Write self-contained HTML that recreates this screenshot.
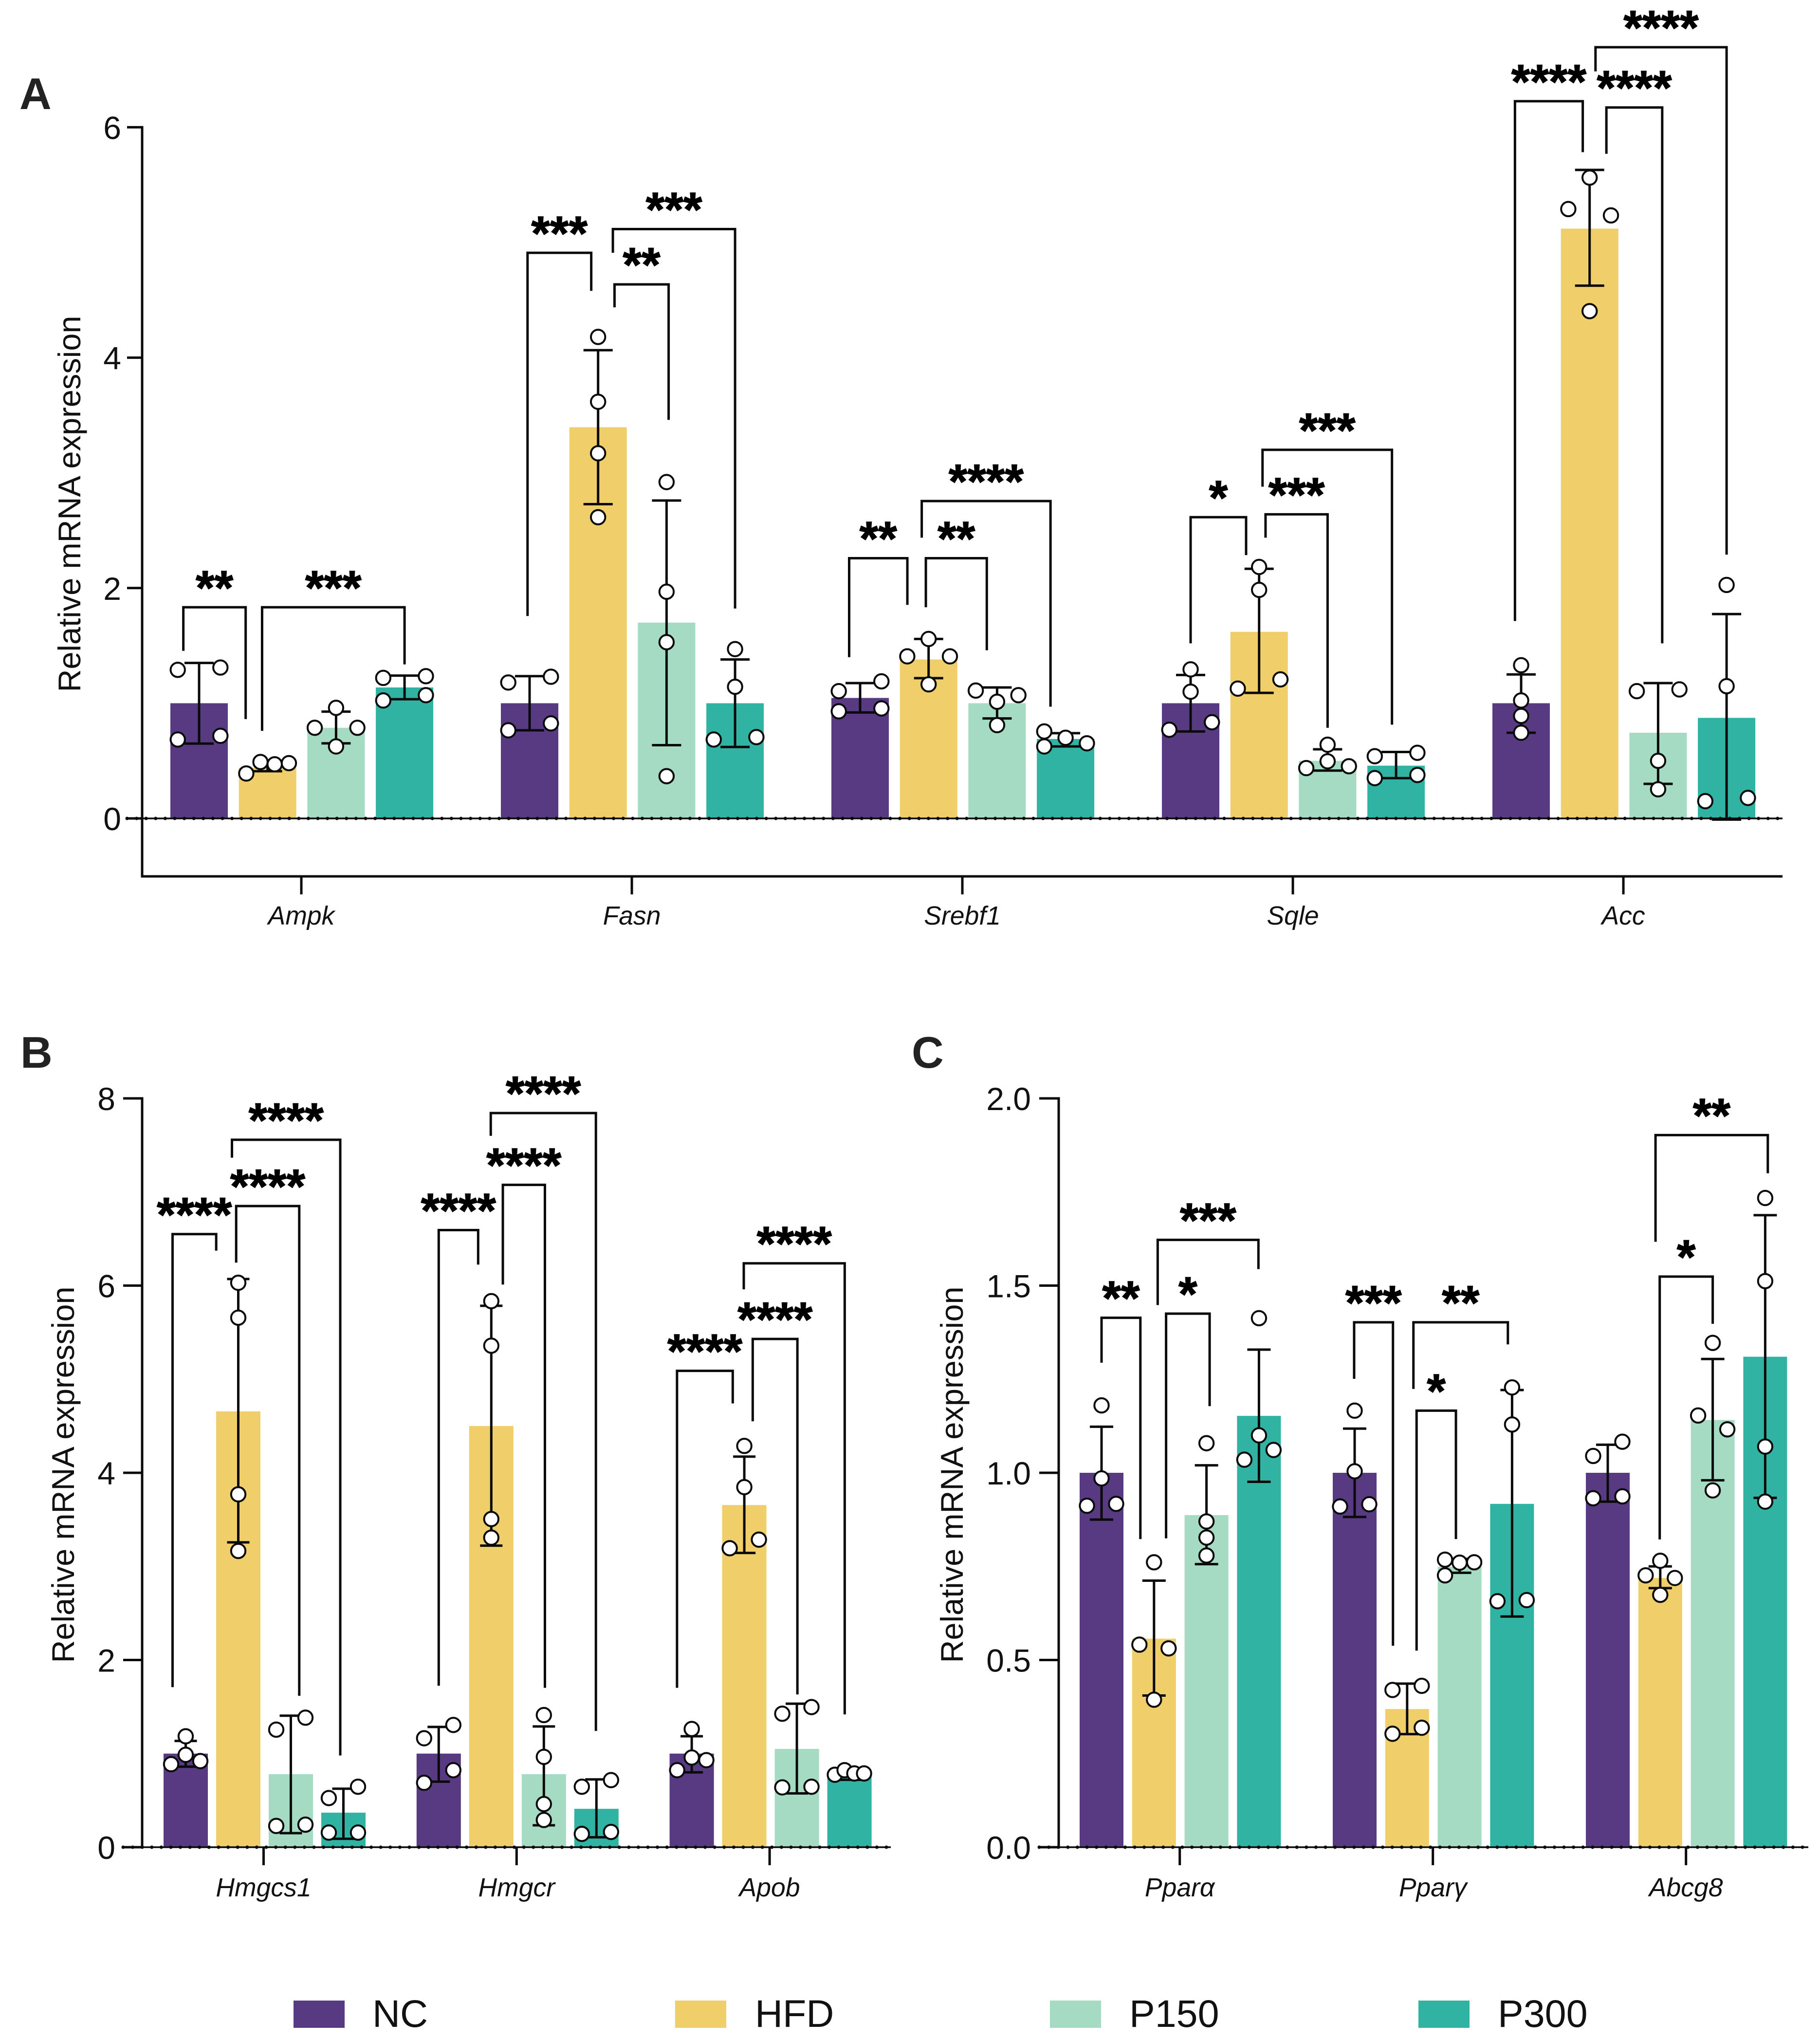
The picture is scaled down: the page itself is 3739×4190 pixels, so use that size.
<!DOCTYPE html>
<html lang="en">
<head>
<meta charset="utf-8">
<title>Relative mRNA expression</title>
<style>
html,body{margin:0;padding:0;background:#fff}
svg{display:block;font-family:"Liberation Sans",Arial,sans-serif}
</style>
</head>
<body>
<svg id="figure" xmlns="http://www.w3.org/2000/svg" width="3739" height="4190" viewBox="0 0 3739 4190">
  <rect x="0" y="0" width="3739" height="4190" fill="#fff"/>
  <text x="40" y="224" font-size="91" font-weight="700" fill="#222">A</text>
  <text x="42" y="2193" font-size="91" font-weight="700" fill="#222">B</text>
  <text x="1873" y="2193" font-size="91" font-weight="700" fill="#222">C</text>
  <g>
    <g>
      <rect x="603" y="4109" width="105" height="56" fill="#583a82"/>
      <text x="765" y="4163" font-size="79" fill="#111">NC</text>
    </g>
    <g>
      <rect x="1387" y="4109" width="105" height="56" fill="#f0ce69"/>
      <text x="1551" y="4163" font-size="79" fill="#111">HFD</text>
    </g>
    <g>
      <rect x="2157" y="4109" width="105" height="56" fill="#a5dac3"/>
      <text x="2320" y="4163" font-size="79" fill="#111">P150</text>
    </g>
    <g>
      <rect x="2914" y="4109" width="105" height="56" fill="#30b3a3"/>
      <text x="3077" y="4163" font-size="79" fill="#111">P300</text>
    </g>
  </g>
</svg>
<script>
const seriesNames = ['NC', 'HFD', 'P150', 'P300'];
const seriesColors = ['#583a82', '#f0ce69', '#a5dac3', '#30b3a3'];

/* ---------- Panel A ---------- */
const aCategories = ['Ampk', 'Fasn', 'Srebf1', 'Sqle', 'Acc'];
const aTicks = [0, 2, 4, 6];
const aMeanNC = [1, 1, 1.046, 1, 1];
const aMeanHFD = [0.44, 3.396, 1.38, 1.62, 5.12];
const aMeanP150 = [0.787, 1.7, 1, 0.5, 0.744];
const aMeanP300 = [1.137, 1, 0.69, 0.458, 0.873];
const aHiNC = [1.35, 1.235, 1.175, 1.245, 1.25];
const aHiHFD = [0.47, 4.065, 1.558, 2.167, 5.63];
const aHiP150 = [0.927, 2.76, 1.137, 0.6, 1.175];
const aHiP300 = [1.24, 1.38, 0.74, 0.577, 1.774];
const aLoNC = [0.65, 0.765, 0.92, 0.755, 0.744];
const aLoHFD = [0.41, 2.728, 1.218, 1.09, 4.625];
const aLoP150 = [0.652, 0.636, 0.868, 0.415, 0.3];
const aLoP300 = [1.035, 0.62, 0.625, 0.35, -0.01];
const aPtsNC = [[1.29, 1.31, 0.685, 0.717], [1.18, 1.23, 0.765, 0.825], [1.105, 1.19, 0.93, 0.955], [1.294, 1.1, 0.77, 0.835], [1.33, 1.024, 0.89, 0.744]];
const aPtsHFD = [[0.39, 0.49, 0.47, 0.48], [4.18, 3.617, 3.17, 2.615], [1.558, 1.407, 1.164, 1.407], [2.183, 1.984, 1.127, 1.207], [5.563, 5.29, 5.235, 4.404]];
const aPtsP150 = [[0.96, 0.787, 0.787, 0.625], [2.92, 1.968, 1.53, 0.367], [1.11, 1.07, 1.013, 0.81], [0.64, 0.496, 0.437, 0.453], [1.105, 1.12, 0.5, 0.253]];
const aPtsP300 = [[1.22, 1.235, 1.024, 1.07], [1.47, 1.143, 0.685, 0.706], [0.755, 0.7, 0.652, 0.625], [0.54, 0.57, 0.35, 0.377], [2.027, 1.148, 0.15, 0.178]];
const aSideNC = ['LRLR', 'LRLR', 'LRLR', 'CCLR', 'CCCC'];
const aSideHFD = ['LlrR', 'CCCC', 'CRCL', 'CCLR', 'CLRC'];
const aSideP150 = ['CLRC', 'CCCC', 'LRCC', 'CCLR', 'LRCC'];
const aSideP300 = ['LRLR', 'CCLR', 'LCRL', 'LRLR', 'CCLR'];
/* group, left bar-position, right bar-position, left end value, right end value, top value, stars */
const aBrackets = [
  [0, -0.23, 0.68, 1.455, 0.863, 1.833, '**'],
  [0, 0.92, 3, 0.76, 1.337, 1.833, '***'],
  [1, -0.03, 0.9, 1.757, 4.58, 4.91, '***'],
  [1, 1.216, 3, 4.91, 1.822, 5.116, '***'],
  [1, 1.24, 2.03, 4.437, 3.46, 4.636, '**'],
  [2, -0.16, 0.69, 1.4, 1.854, 2.259, '**'],
  [2, 0.9, 2.78, 2.437, 0.97, 2.755, '****'],
  [2, 0.96, 1.85, 1.833, 1.46, 2.259, '**'],
  [3, 0, 0.81, 1.52, 2.286, 2.615, '*'],
  [3, 1.05, 2.94, 2.88, 0.814, 3.2, '***'],
  [3, 1.094, 2, 2.437, 0.787, 2.64, '***'],
  [4, -0.09, 0.9, 1.714, 5.784, 6.226, '****'],
  [4, 1.086, 3, 6.485, 2.29, 6.695, '****'],
  [4, 1.245, 2.06, 5.77, 1.52, 6.172, '****']
];

/* ---------- Panel B ---------- */
const bCategories = ['Hmgcs1', 'Hmgcr', 'Apob'];
const bTicks = [0, 2, 4, 6, 8];
const bMeanNC = [1, 1, 1];
const bMeanHFD = [4.656, 4.5, 3.655];
const bMeanP150 = [0.78, 0.78, 1.05];
const bMeanP300 = [0.369, 0.41, 0.752];
const bHiNC = [1.135, 1.285, 1.185];
const bHiHFD = [6.07, 5.784, 4.173];
const bHiP150 = [1.405, 1.29, 1.533];
const bHiP300 = [0.625, 0.724, 0.8];
const bLoNC = [0.86, 0.7, 0.8];
const bLoHFD = [3.257, 3.222, 3.144];
const bLoP150 = [0.15, 0.234, 0.575];
const bLoP300 = [0.09, 0.106, 0.72];
const bPtsNC = [[1.185, 0.987, 0.887, 0.92], [1.164, 1.306, 0.823, 0.688], [1.263, 0.958, 0.823, 0.93]];
const bPtsHFD = [[6.03, 5.657, 3.77, 3.165], [5.834, 5.358, 3.506, 3.307], [4.287, 3.847, 3.194, 3.286]];
const bPtsP150 = [[1.256, 1.384, 0.227, 0.241], [1.412, 0.965, 0.461, 0.291], [1.426, 1.497, 0.639, 0.646]];
const bPtsP300 = [[0.525, 0.646, 0.156, 0.156], [0.646, 0.717, 0.142, 0.163], [0.774, 0.823, 0.788, 0.788]];
const bSideNC = ['CCLR', 'LRRL', 'CCLR'];
const bSideHFD = ['CCCC', 'CCCC', 'CCLR'];
const bSideP150 = ['LRLR', 'CCCC', 'LRLR'];
const bSideP300 = ['LRLR', 'LRLR', 'LlrR'];
const bBrackets = [
  [0, -0.25, 0.58, 1.71, 6.373, 6.55, '****'],
  [0, 0.88, 2.94, 7.367, 0.98, 7.558, '****'],
  [0, 0.96, 2.16, 6.245, 1.618, 6.85, '****'],
  [1, 0, 0.75, 1.725, 6.224, 6.593, '****'],
  [1, 0.99, 2.99, 7.6, 1.242, 7.843, '****'],
  [1, 1.22, 2.02, 6.011, 1.703, 7.076, '****'],
  [2, -0.28, 0.78, 1.703, 4.741, 5.089, '****'],
  [2, 0.99, 2.91, 5.96, 1.419, 6.238, '****'],
  [2, 1.16, 2.01, 4.55, 1.632, 5.43, '****']
];

/* ---------- Panel C ---------- */
const cCategories = ['Pparα', 'Pparγ', 'Abcg8'];
const cTicks = ['0.0', '0.5', '1.0', '1.5', '2.0'];
const cMeanNC = [1, 1, 1];
const cMeanHFD = [0.557, 0.369, 0.719];
const cMeanP150 = [0.887, 0.749, 1.141];
const cMeanP300 = [1.152, 0.917, 1.31];
const cHiNC = [1.123, 1.118, 1.075];
const cHiHFD = [0.712, 0.437, 0.75];
const cHiP150 = [1.02, 0.77, 1.304];
const cHiP300 = [1.329, 1.221, 1.688];
const cLoNC = [0.875, 0.882, 0.923];
const cLoHFD = [0.405, 0.302, 0.692];
const cLoP150 = [0.756, 0.733, 0.98];
const cLoP300 = [0.976, 0.616, 0.933];
const cPtsNC = [[1.18, 0.985, 0.912, 0.917], [1.166, 1.004, 0.91, 0.916], [1.045, 1.083, 0.932, 0.937]];
const cPtsHFD = [[0.761, 0.541, 0.531, 0.394], [0.42, 0.431, 0.319, 0.303], [0.765, 0.726, 0.719, 0.674]];
const cPtsP150 = [[1.079, 0.87, 0.827, 0.779], [0.768, 0.76, 0.761, 0.726], [1.347, 1.153, 1.116, 0.953]];
const cPtsP300 = [[1.413, 1.1, 1.035, 1.061], [1.228, 1.129, 0.657, 0.66], [1.734, 1.512, 1.07, 0.923]];
const cSideNC = ['CCLR', 'CCLR', 'LRLR'];
const cSideHFD = ['CLRC', 'LRRL', 'CLRC'];
const cSideP150 = ['CCCC', 'LCRL', 'CLRC'];
const cSideP300 = ['CCLR', 'CCLR', 'CCCC'];
const cBrackets = [
  [0, 0, 0.74, 1.294, 0.823, 1.414, '**'],
  [0, 1.07, 2.99, 1.448, 1.544, 1.622, '***'],
  [0, 1.23, 2.06, 0.825, 1.178, 1.425, '*'],
  [1, -0.01, 0.73, 1.251, 0.538, 1.402, '***'],
  [1, 1.12, 2.92, 1.224, 1.343, 1.402, '**'],
  [1, 1.18, 1.93, 0.525, 0.823, 1.166, '*'],
  [2, 0.91, 3.05, 1.617, 1.8, 1.902, '**'],
  [2, 0.99, 2, 0.822, 1.398, 1.524, '*']
];

const NS = 'http://www.w3.org/2000/svg';
const root = document.getElementById('figure');
const sideUnits = { L: -3, l: -1, C: 0, r: 1, R: 3 };

function mk(tag, parent, attrs) {
  const e = document.createElementNS(NS, tag);
  for (const k in attrs) e.setAttribute(k, attrs[k]);
  parent.appendChild(e);
  return e;
}
function slug(s) {
  return s.toLowerCase().replace('α', 'alpha').replace('γ', 'gamma');
}

function drawPanel(p) {
  const yScale = v => p.yZero - p.pxPerUnit * v;
  const groupLeft = g => p.start + g * p.groupPitch;
  const barCenter = (g, s) => groupLeft(g) + p.barW / 2 + s * p.barPitch;
  const groupCenter = g => barCenter(g, 1.5);
  const stroke = '#0a0a0a';
  const sw = 5;

  const panel = mk('g', root, {});
  
  

  /* bars */
  p.categories.forEach((cat, g) => {
    seriesNames.forEach((name, s) => {
      const top = yScale(p.means[s][g]);
      const bar = mk('rect', panel, { x: groupLeft(g) + s * p.barPitch, y: top, width: p.barW, height: p.yZero - top, fill: seriesColors[s] });
      
      
    });
  });

  /* axes */
  const yAxis = mk('line', panel, { x1: p.axisX, x2: p.axisX, y1: yScale(p.yMax) - sw / 2, y2: p.axisBottom + sw / 2, stroke: stroke, 'stroke-width': sw });
  
  

  p.ticks.forEach(t => {
    const ty = yScale(Number(t));
    const tick = mk('line', panel, { x1: p.tickLeft, x2: p.axisX, y1: ty, y2: ty, stroke: stroke, 'stroke-width': sw });
    
    
    const label = mk('text', panel, { x: p.tickLabelX, y: ty + 24, 'font-size': 66, 'text-anchor': 'end', fill: '#111' });
    label.textContent = String(t);
    
    
  });

  const title = mk('text', panel, { transform: 'translate(' + p.titleX + ' ' + p.titleY + ') rotate(-90)', 'font-size': 65, 'text-anchor': 'middle', fill: '#111' });
  title.textContent = 'Relative mRNA expression';
  
  

  const zeroLine = mk('line', panel, { x1: p.tickLeft, x2: p.axisRight, y1: p.yZero, y2: p.yZero, stroke: stroke, 'stroke-width': 3.5 });
  
  
  const zeroDots = mk('line', panel, { x1: p.tickLeft, x2: p.axisRight, y1: p.yZero, y2: p.yZero, stroke: stroke, 'stroke-width': 7, 'stroke-linecap': 'round', 'stroke-dasharray': '0 19.6' });
  
  

  if (p.hasBottomAxis) {
    const xAxis = mk('line', panel, { x1: p.axisX, x2: p.axisRight, y1: p.axisBottom, y2: p.axisBottom, stroke: stroke, 'stroke-width': sw });
    
    
  }

  p.categories.forEach((cat, g) => {
    const tick = mk('line', panel, { x1: groupCenter(g) + p.tickShift, x2: groupCenter(g) + p.tickShift, y1: p.axisBottom, y2: p.xTickEnd, stroke: stroke, 'stroke-width': sw });
    
    
    const label = mk('text', panel, { x: groupCenter(g) + p.tickShift, y: p.xLabelY, 'font-size': 53.5, 'font-style': 'italic', 'text-anchor': 'middle', fill: '#111' });
    label.textContent = cat;
    
    
  });

  /* error bars + points */
  p.categories.forEach((cat, g) => {
    seriesNames.forEach((name, s) => {
      const cx = barCenter(g, s);
      const eg = mk('g', panel, { stroke: stroke, 'stroke-width': sw, fill: 'none' });
      
      
      const yh = yScale(p.hi[s][g]);
      const yl = yScale(p.lo[s][g]);
      mk('line', eg, { x1: cx, x2: cx, y1: yh, y2: yl });
      mk('line', eg, { x1: cx - p.cap, x2: cx + p.cap, y1: yh, y2: yh });
      mk('line', eg, { x1: cx - p.cap, x2: cx + p.cap, y1: yl, y2: yl });
      p.pts[s][g].forEach((v, i) => {
        const dx = sideUnits[p.sides[s][g][i]] * p.swarmUnit;
        const pt = mk('circle', panel, { cx: cx + dx, cy: yScale(v), r: 14.7, fill: '#fff', stroke: '#0a0a0a', 'stroke-width': 4 });
        
        
      });
    });
  });

  /* significance brackets */
  p.brackets.forEach(b => {
    const xl = barCenter(b[0], b[1]);
    const xr = barCenter(b[0], b[2]);
    const yt = yScale(b[5]);
    const br = mk('polyline', panel, { points: xl + ',' + yScale(b[3]) + ' ' + xl + ',' + yt + ' ' + xr + ',' + yt + ' ' + xr + ',' + yScale(b[4]), fill: 'none', stroke: stroke, 'stroke-width': sw });
    
    
    const st = mk('text', panel, { x: (xl + xr) / 2, y: yt - 6, 'font-size': 99, 'font-weight': 700, 'text-anchor': 'middle', fill: '#000', stroke: '#000', 'stroke-width': 1.5 });
    st.textContent = b[6];
    
    
  });
}

drawPanel({
  id: 'a', categories: aCategories, ticks: aTicks, yMax: 6, brackets: aBrackets,
  means: [aMeanNC, aMeanHFD, aMeanP150, aMeanP300],
  hi: [aHiNC, aHiHFD, aHiP150, aHiP300],
  lo: [aLoNC, aLoHFD, aLoP150, aLoP300],
  pts: [aPtsNC, aPtsHFD, aPtsP150, aPtsP300],
  sides: [aSideNC, aSideHFD, aSideP150, aSideP300],
  start: 350, barW: 118, barPitch: 140.7, groupPitch: 679, yZero: 1681, pxPerUnit: 236.6,
  axisX: 292, axisRight: 3662, axisBottom: 1800, hasBottomAxis: true, tickLeft: 261, tickLabelX: 249, tickShift: -1,
  xTickEnd: 1837, xLabelY: 1899, titleX: 165, titleY: 1035, cap: 30, swarmUnit: 14.6
});
drawPanel({
  id: 'b', categories: bCategories, ticks: bTicks, yMax: 8, brackets: bBrackets,
  means: [bMeanNC, bMeanHFD, bMeanP150, bMeanP300],
  hi: [bHiNC, bHiHFD, bHiP150, bHiP300],
  lo: [bLoNC, bLoHFD, bLoP150, bLoP300],
  pts: [bPtsNC, bPtsHFD, bPtsP150, bPtsP300],
  sides: [bSideNC, bSideHFD, bSideP150, bSideP300],
  start: 336, barW: 91, barPitch: 108, groupPitch: 519.8, yZero: 3794, pxPerUnit: 192.25,
  axisX: 292, axisRight: 1830, axisBottom: 3794, hasBottomAxis: false, tickLeft: 253, tickLabelX: 237, tickShift: -2,
  xTickEnd: 3831, xLabelY: 3895, titleX: 152, titleY: 3029, cap: 23, swarmUnit: 10
});
drawPanel({
  id: 'c', categories: cCategories, ticks: cTicks, yMax: 2, brackets: cBrackets,
  means: [cMeanNC, cMeanHFD, cMeanP150, cMeanP300],
  hi: [cHiNC, cHiHFD, cHiP150, cHiP300],
  lo: [cLoNC, cLoHFD, cLoP150, cLoP300],
  pts: [cPtsNC, cPtsHFD, cPtsP150, cPtsP300],
  sides: [cSideNC, cSideHFD, cSideP150, cSideP300],
  start: 2218, barW: 90, barPitch: 107.8, groupPitch: 520, yZero: 3794, pxPerUnit: 769,
  axisX: 2175, axisRight: 3715, axisBottom: 3794, hasBottomAxis: false, tickLeft: 2135, tickLabelX: 2118, tickShift: -1,
  xTickEnd: 3831, xLabelY: 3895, titleX: 1978, titleY: 3029, cap: 24, swarmUnit: 10
});
</script>
</body>
</html>
